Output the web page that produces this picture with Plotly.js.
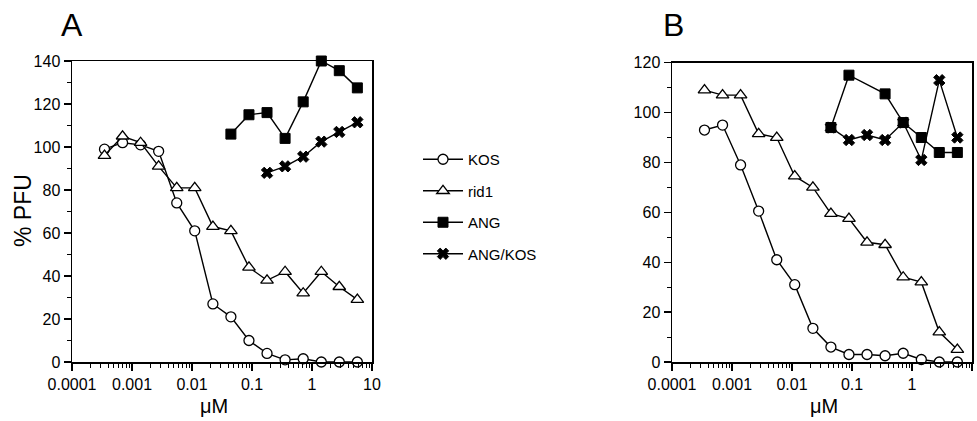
<!DOCTYPE html>
<html>
<head>
<meta charset="utf-8">
<script src="https://cdn.plot.ly/plotly-3.0.1.min.js"></script>
<style>html,body{margin:0;padding:0;background:#fff;}#chart{width:977px;height:421px;}</style>
</head>
<body>
<div id="chart"></div>
<script>
// concentrations (µM), 2-fold dilution series
const conc = [0.000348, 0.000696, 0.00139, 0.00278, 0.00557, 0.0111, 0.0223, 0.0445, 0.089, 0.178, 0.356, 0.713, 1.43, 2.85, 5.7];

// Panel A
const kosA = [99, 102, 101, 98, 74, 61, 27, 21, 10, 4, 1, 1.5, 0, 0, 0];
const rid1A = [96, 105, 102, 91, 81, 81, 63, 61, 44, 38, 42, 32, 42, 35, 29];
const angA_x = [0.0445, 0.089, 0.178, 0.356, 0.713, 1.43, 2.85, 5.7];
const angA = [106, 115, 116, 104, 121, 140, 135.5, 127.5];
const angkosA_x = [0.178, 0.356, 0.713, 1.43, 2.85, 5.7];
const angkosA = [88, 91, 95.5, 102.5, 107, 111.5];

// Panel B
const kosB = [93, 95, 79, 60.5, 41, 31, 13.5, 6, 3, 3, 2.5, 3.5, 1, 0, 0];
const rid1B = [109, 107, 107, 91.5, 90, 74.5, 70, 59.5, 57.5, 48, 47, 34, 32, 12, 5];
const angB_x = [0.0445, 0.089, 0.356, 0.713, 1.43, 2.85, 5.7];
const angB = [94, 115, 107.5, 96, 90, 84, 84];
const angkosB_x = [0.0445, 0.089, 0.178, 0.356, 0.713, 1.43, 2.85, 5.7];
const angkosB = [94, 89, 91, 89, 96, 81, 113, 90];

const xTickVals = [0.0001, 0.001, 0.01, 0.1, 1, 10];
const xTickText = ['0.0001', '0.001', '0.01', '0.1', '1', '10'];
const seriesNames = ['KOS', 'rid1', 'ANG', 'ANG/KOS'];

const FONT = 'Liberation Sans, Arial, Helvetica, sans-serif';
const lineStyle = {color: '#000', width: 1.4};
const styles = [
  {symbol: 'circle', size: 10, color: '#fff', line: {color: '#000', width: 1.3}},
  {symbol: 'triangle-up', size: 11, color: '#fff', line: {color: '#000', width: 1.3}},
  {symbol: 'square', size: 10, color: '#000', line: {color: '#000', width: 1}},
  {symbol: 'x', size: 10, color: '#000', line: {color: '#000', width: 1}}
];

function tr(x, y, i, ax, show) {
  return {
    x: x, y: y, type: 'scatter', mode: 'lines+markers',
    name: seriesNames[i], legendgroup: 'g' + i, showlegend: show,
    line: lineStyle, marker: styles[i], cliponaxis: false,
    xaxis: ax === 1 ? 'x' : 'x2', yaxis: ax === 1 ? 'y' : 'y2',
    hoverinfo: 'x+y'
  };
}

const data = [
  tr(conc, kosA, 0, 1, true),
  tr(conc, rid1A, 1, 1, true),
  tr(angA_x, angA, 2, 1, true),
  tr(angkosA_x, angkosA, 3, 1, true),
  tr(conc, kosB, 0, 2, false),
  tr(conc, rid1B, 1, 2, false),
  tr(angB_x, angB, 2, 2, false),
  tr(angkosB_x, angkosB, 3, 2, false)
];

function xax(domain, anchor) {
  return {
    domain: domain, anchor: anchor, type: 'log', range: [-4, 1],
    tickvals: xTickVals, ticktext: xTickText,
    ticks: 'outside', ticklen: 7, tickwidth: 1.3, tickcolor: '#000',
    minor: {ticks: 'outside', ticklen: 4, tickwidth: 1, tickcolor: '#000', dtick: 'D1', showgrid: false},
    showline: true, linecolor: '#000', linewidth: 1.5, mirror: true,
    showgrid: false, zeroline: false,
    tickfont: {family: FONT, size: 16, color: '#000'}
  };
}
function yax(domain, anchor, max) {
  return {
    domain: domain, anchor: anchor, range: [0, max], dtick: 20,
    ticks: 'outside', ticklen: 7, tickwidth: 1.3, tickcolor: '#000',
    minor: {ticks: 'outside', ticklen: 4, tickwidth: 1, tickcolor: '#000', dtick: 10, showgrid: false},
    showline: true, linecolor: '#000', linewidth: 1.5, mirror: true,
    showgrid: false, zeroline: false,
    tickfont: {family: FONT, size: 16, color: '#000'}
  };
}

const W = 977, H = 421;
const layout = {
  width: W, height: H,
  margin: {l: 0, r: 0, t: 0, b: 0},
  paper_bgcolor: '#fff', plot_bgcolor: '#fff',
  font: {family: FONT, color: '#000'},
  xaxis: xax([72 / W, 372 / W], 'y'),
  yaxis: yax([(H - 362) / H, (H - 61) / H], 'x', 140),
  xaxis2: xax([672 / W, 972 / W], 'y2'),
  yaxis2: yax([(H - 362) / H, (H - 62.7) / H], 'x2', 120),
  showlegend: true,
  legend: {
    x: 418 / W, y: (H - 143) / H, xanchor: 'left', yanchor: 'top',
    font: {family: FONT, size: 15, color: '#000'},
    itemwidth: 40,
    tracegroupgap: 9, bgcolor: 'rgba(0,0,0,0)', borderwidth: 0
  },
  annotations: [
    {text: 'A', x: 72 / W, y: (H - 25) / H, xref: 'paper', yref: 'paper', xanchor: 'center', yanchor: 'middle', showarrow: false, font: {family: FONT, size: 32, color: '#000'}},
    {text: 'B', x: 673 / W, y: (H - 25) / H, xref: 'paper', yref: 'paper', xanchor: 'center', yanchor: 'middle', showarrow: false, font: {family: FONT, size: 32, color: '#000'}},
    {text: '% PFU', x: 23 / W, y: (H - 211) / H, xref: 'paper', yref: 'paper', xanchor: 'center', yanchor: 'middle', textangle: -90, showarrow: false, font: {family: FONT, size: 23, color: '#000'}},
    {text: 'μM', x: 214 / W, y: (H - 406) / H, xref: 'paper', yref: 'paper', xanchor: 'center', yanchor: 'middle', showarrow: false, font: {family: FONT, size: 20, color: '#000'}},
    {text: 'μM', x: 824 / W, y: (H - 406) / H, xref: 'paper', yref: 'paper', xanchor: 'center', yanchor: 'middle', showarrow: false, font: {family: FONT, size: 20, color: '#000'}}
  ]
};

Plotly.newPlot('chart', data, layout, {displayModeBar: false, staticPlot: true});
</script>
</body>
</html>
